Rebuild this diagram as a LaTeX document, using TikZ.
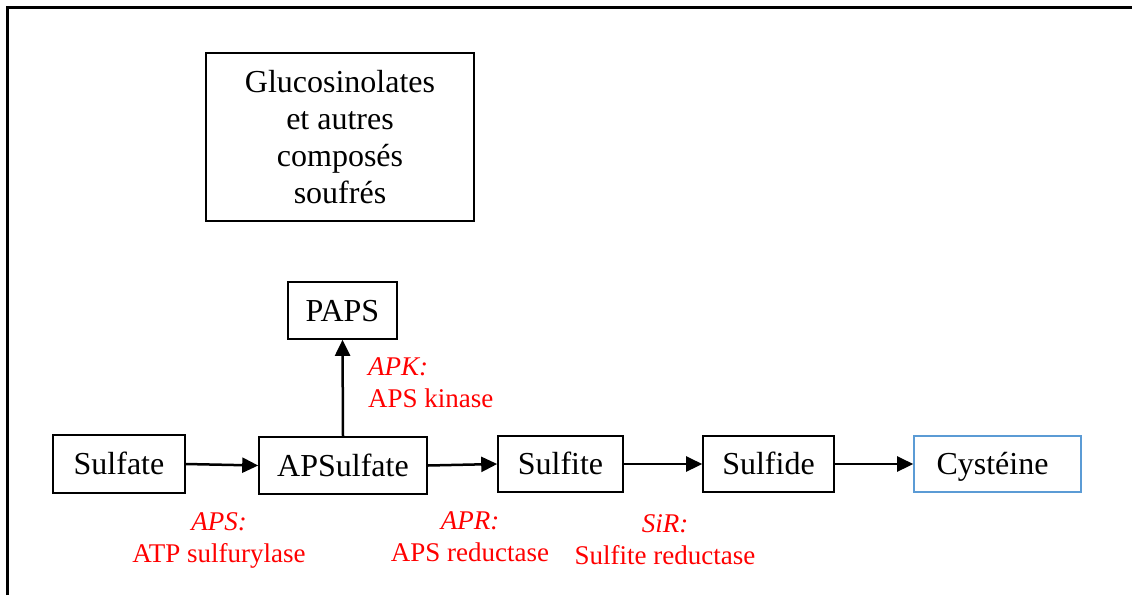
\documentclass[tikz,border=0pt]{standalone}
\usepackage{fontspec}
\setmainfont{Liberation Serif}
\usetikzlibrary{arrows.meta}
\definecolor{cyblue}{RGB}{91,155,213}
\begin{document}
\begin{tikzpicture}[x=1pt,y=-1pt,
  box/.style={draw=black, line width=1.6pt, inner sep=0pt, font=\fontsize{32}{37}\selectfont, align=center},
  sbox/.style={box, text height=24pt, text depth=3pt},
  lbl/.style={text=red, font=\fontsize{27}{32}\selectfont, inner sep=0pt},
  arr/.style={line width=2.5pt, -{Triangle[length=16pt,width=15pt]}}]
\useasboundingbox (0,0) rectangle (1132,595);
\fill[white] (0,0) rectangle (1132,595);
% frame
\draw[line width=3pt] (7,595) -- (7,7) -- (1132,7);
% nodes
\node[box, minimum width=268pt, minimum height=168pt] (gluc) at (340,137) {Glucosinolates\\et autres\\composés\\soufrés};
\node[sbox, minimum width=109pt, minimum height=57pt] (paps) at (342.5,310.5) {PAPS};
\node[sbox, minimum width=132pt, minimum height=58pt] (sulfate) at (119,464) {Sulfate};
\node[sbox, minimum width=168pt, minimum height=57pt] (apsulfate) at (343,465.5) {APSulfate};
\node[sbox, minimum width=125pt, minimum height=56pt] (sulfite) at (560.5,464) {Sulfite};
\node[sbox, minimum width=131pt, minimum height=56pt] (sulfide) at (768.5,464) {Sulfide};
\node[sbox, draw=cyblue, minimum width=167pt, minimum height=56pt] (cys) at (997.5,464) {\hspace*{-10pt}Cystéine};
% arrows
\draw[arr] (sulfate.east) -- (apsulfate.west);
\draw[arr] (apsulfate.east) -- (sulfite.west);
\draw[arr] (sulfite.east) -- (sulfide.west);
\draw[arr] (sulfide.east) -- (cys.west);
\draw[arr] (apsulfate.north) -- (paps.south);
% labels
\node[lbl, align=center] (lapsl) at (219,540) {\textit{APS:}\\ATP sulfurylase};
\node[lbl, align=center] (laprl) at (470,537) {\textit{APR:}\\APS reductase};
\node[lbl, align=center] (lsirl) at (665,540) {\textit{SiR:}\\Sulfite reductase};
\node[lbl, align=left, anchor=west] (lapkl) at (368,383) {\textit{APK:}\\APS kinase};
\end{tikzpicture}
\end{document}
